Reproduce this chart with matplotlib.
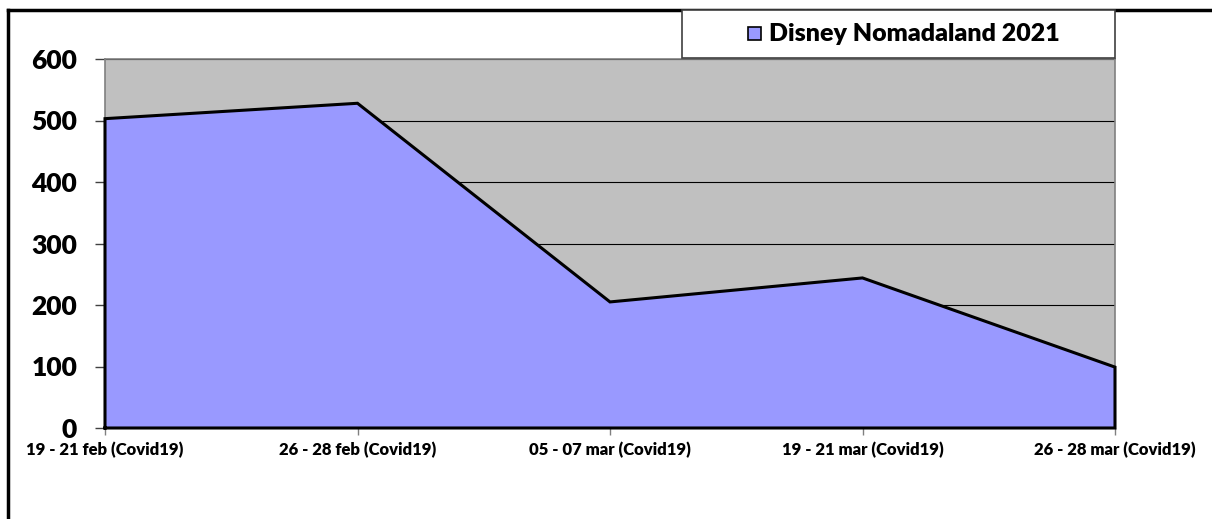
import matplotlib
matplotlib.use("Agg")
import matplotlib.pyplot as plt
from matplotlib.patches import Rectangle
from matplotlib.lines import Line2D

plt.rcParams['font.family'] = ['Lato', 'DejaVu Sans']

# Weekend box office (thousands) for Nomadland
categories = ["19 - 21 feb (Covid19)", "26 - 28 feb (Covid19)", "05 - 07 mar (Covid19)",
              "19 - 21 mar (Covid19)", "26 - 28 mar (Covid19)"]
values = [503, 528, 205, 244, 99]
series_name = "Disney Nomadaland 2021"
y_ticks = [0, 100, 200, 300, 400, 500, 600]

W, H = 1212, 519
fig = plt.figure(figsize=(W / 100, H / 100), dpi=100)

def fx(px):
    return px / W

def fy(py):
    return 1 - py / H

ax = fig.add_axes([fx(105), fy(428), fx(1115) - fx(105), fy(59) - fy(428)])
ax.set_facecolor("#C0C0C0")

x = list(range(len(categories)))
ax.fill_between(x, values, 0, color="#9999FF", zorder=2, linewidth=0)
# outline of the area, including its base and vertical sides
ax.plot([x[0]] + x + [x[-1], x[0]], [0] + values + [0, 0], color="black",
        lw=2.2, zorder=3, solid_joinstyle="miter", clip_on=False)

ax.set_xlim(x[0], x[-1])
ax.set_ylim(0, 600)
ax.set_yticks(y_ticks)
ax.set_yticklabels([str(v) for v in y_ticks], fontsize=19, fontweight="heavy")
ax.set_xticks(x)
ax.set_xticklabels(categories, fontsize=12, fontweight="heavy")
ax.yaxis.grid(True, color="black", lw=0.8, zorder=1)
ax.set_axisbelow(True)
ax.tick_params(axis="y", length=7, width=1, color="#404040", pad=13)
ax.tick_params(axis="x", length=5, width=1, color="#808080", pad=5)
for side in ["top", "right", "left", "bottom"]:
    ax.spines[side].set_color("#808080")
    ax.spines[side].set_linewidth(1.2)

# outer chart frame (top and left edges)
fig.add_artist(Line2D([fx(8), fx(8)], [fy(10), 0], color="black", lw=2.5))
fig.add_artist(Line2D([fx(8), 1], [fy(10), fy(10)], color="black", lw=2.5))

# legend box
fig.add_artist(Rectangle((fx(682), fy(58)), fx(1115) - fx(682), fy(10) - fy(58),
                         facecolor="white", edgecolor="#404040", lw=1.2, zorder=5))
fig.add_artist(Rectangle((fx(748), fy(40)), fx(13), fy(0) - fy(13),
                         facecolor="#9999FF", edgecolor="black", lw=1.2, zorder=6))
fig.text(fx(769), fy(34), series_name, fontsize=18, fontweight="heavy",
         ha="left", va="center", zorder=6)

fig.savefig("out.png", dpi=100)
